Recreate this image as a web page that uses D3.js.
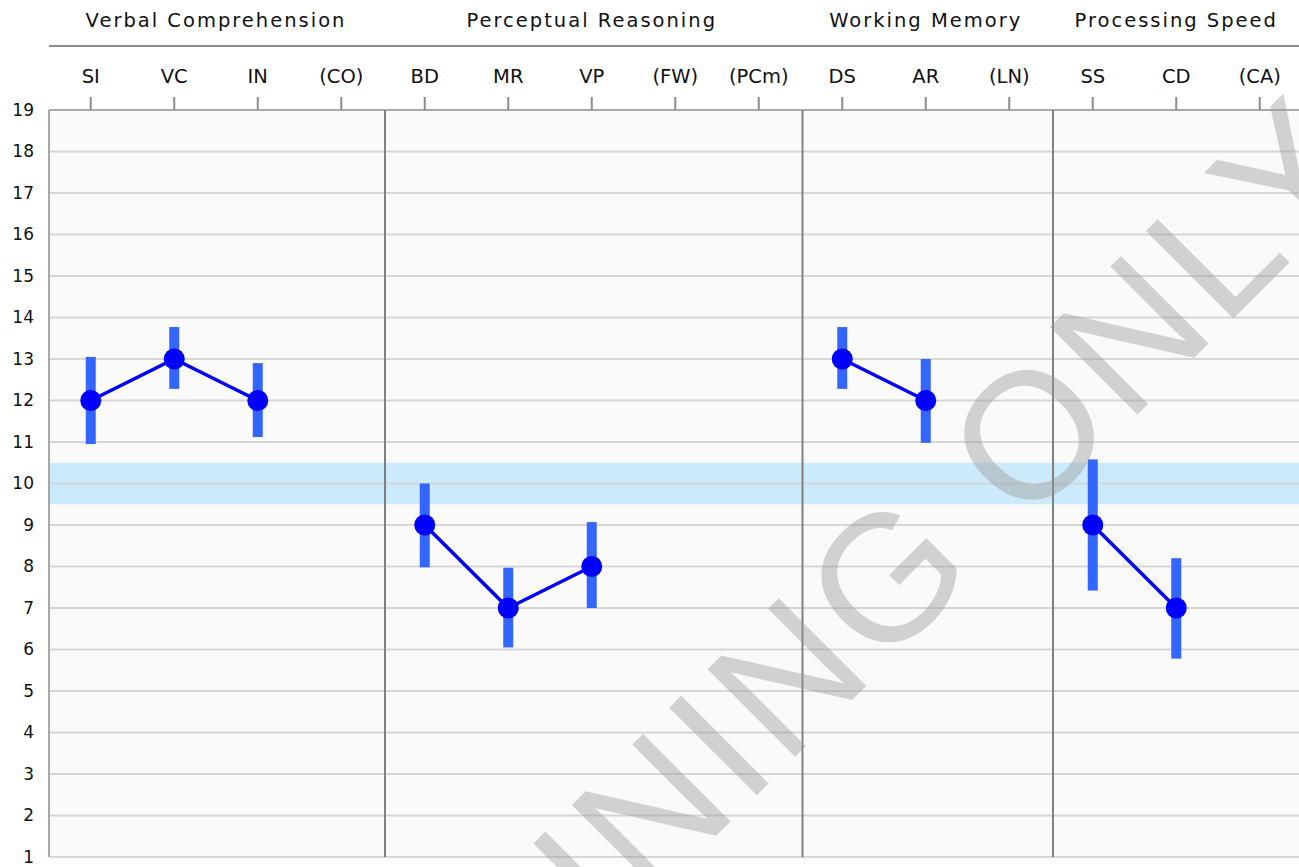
<!DOCTYPE html>
<html>
<head>
<meta charset="utf-8">
<script src="https://cdn.jsdelivr.net/npm/d3@7"></script>
<style>
  body { margin: 0; background: #fff; }
  svg { display: block; font-family: "DejaVu Sans", sans-serif; }
</style>
</head>
<body>
<svg id="chart" width="1299" height="867"></svg>
<script>
// subtests along the top, optional ones in brackets
var subtests = ["SI","VC","IN","(CO)","BD","MR","VP","(FW)","(PCm)","DS","AR","(LN)","SS","CD","(CA)"]
var groups = ["Verbal Comprehension","Perceptual Reasoning","Working Memory","Processing Speed"]
var groupSizes = [4,5,3,3]
// scaled scores and confidence range, null = not given
var scores = [12,13,12,null,9,7,8,null,null,13,12,null,9,7,null]
var lower  = [10.95,12.28,11.12,null,7.98,6.05,7.0,null,null,12.28,10.98,null,7.42,5.78,null]
var upper  = [13.05,13.77,12.9,null,10.0,7.97,9.07,null,null,13.77,13.0,null,10.58,8.2,null]
var yTicks = d3.range(1,20)
var meanBand = [9.5,10.5]

var svg = d3.select("#chart")
var pLeft = 49, pTop = 110, pBottom = 857, pRight = 49 + 15*83.5

var x = d3.scaleBand().domain(subtests).range([pLeft,pRight]).padding(0)
var y = d3.scaleLinear().domain([1,19]).range([pBottom,pTop])
var cx = function(s){ return x(s) + x.bandwidth()/2 }

// plot background
svg.append("rect").attr("x",pLeft).attr("y",pTop).attr("width",pRight-pLeft).attr("height",pBottom-pTop).attr("fill","#fafafa")

// average band
svg.append("rect").attr("x",pLeft).attr("width",pRight-pLeft)
  .attr("y",y(meanBand[1])).attr("height",y(meanBand[0])-y(meanBand[1]))
  .attr("fill","#cbeafc")

// grid
svg.append("g").selectAll("line").data(yTicks).enter().append("line")
  .attr("x1",pLeft).attr("x2",pRight).attr("y1",function(d){return y(d)}).attr("y2",function(d){return y(d)})
  .attr("stroke","#d6d6d6").attr("stroke-width",2)

// y labels
var yAxis = svg.append("g").attr("transform","translate("+(pLeft-15)+",0)")
  .call(d3.axisLeft(y).tickValues(yTicks).tickSize(0).tickPadding(0))
yAxis.select(".domain").remove()
yAxis.selectAll("text").attr("font-family","DejaVu Sans").attr("font-size",17).attr("fill","#111")

// borders
svg.append("line").attr("x1",pLeft).attr("x2",pRight).attr("y1",pTop).attr("y2",pTop).attr("stroke","#a8a8a8").attr("stroke-width",2)
svg.append("line").attr("x1",pLeft).attr("x2",pLeft).attr("y1",pTop).attr("y2",pBottom).attr("stroke","#a8a8a8").attr("stroke-width",2)

// top axis with subtest names
var xAxis = svg.append("g").attr("transform","translate(0,"+pTop+")")
  .call(d3.axisTop(x).tickSize(13).tickPadding(14))
xAxis.select(".domain").remove()
xAxis.selectAll(".tick line").attr("stroke","#8c8c8c").attr("stroke-width",2)
xAxis.selectAll("text").attr("font-family","DejaVu Sans").attr("font-size",19.5).attr("fill","#111")

// group separators and titles
var start = 0
var groupPos = groupSizes.map(function(n){
  var a = x(subtests[start]), b = x(subtests[start+n-1]) + x.bandwidth()
  start += n
  return [a,b]
})
svg.append("g").selectAll("line").data(groupPos.slice(1)).enter().append("line")
  .attr("x1",function(d){return d[0]+2}).attr("x2",function(d){return d[0]+2})
  .attr("y1",pTop).attr("y2",pBottom).attr("stroke","#808080").attr("stroke-width",2)
svg.append("line").attr("x1",pLeft).attr("x2",pRight).attr("y1",46).attr("y2",46).attr("stroke","#8c8c8c").attr("stroke-width",2)
svg.append("g").selectAll("text").data(groups).enter().append("text")
  .text(function(d){return d})
  .attr("x",function(d,i){return (groupPos[i][0]+groupPos[i][1])/2})
  .attr("y",27).attr("text-anchor","middle").attr("font-size",19.5).attr("letter-spacing",2).attr("fill","#111")

// data
var pts = subtests.map(function(s,i){ return {s:s, v:scores[i], lo:lower[i], hi:upper[i]} })
var valid = pts.filter(function(d){return d.v != null})

svg.append("g").selectAll("rect").data(valid).enter().append("rect")
  .attr("x",function(d){return cx(d.s)-5}).attr("width",10)
  .attr("y",function(d){return y(d.hi)}).attr("height",function(d){return y(d.lo)-y(d.hi)})
  .attr("fill","#3366ff")

var line = d3.line().defined(function(d){return d.v != null})
  .x(function(d){return cx(d.s)}).y(function(d){return y(d.v)})
svg.append("path").datum(pts).attr("d",line).attr("fill","none").attr("stroke","#0000ff").attr("stroke-width",3.5)

svg.append("g").selectAll("circle").data(valid).enter().append("circle")
  .attr("cx",function(d){return cx(d.s)}).attr("cy",function(d){return y(d.v)}).attr("r",10.5)
  .attr("fill","#0000ff")

// watermark
svg.append("text").text("TRAINING ONLY")
  .attr("transform","translate(342,1210) rotate(-45)")
  .attr("font-family","Liberation Sans").attr("font-size",180).attr("letter-spacing",6)
  .attr("fill","#9a9a9a").attr("opacity",0.42)
</script>
</body>
</html>
